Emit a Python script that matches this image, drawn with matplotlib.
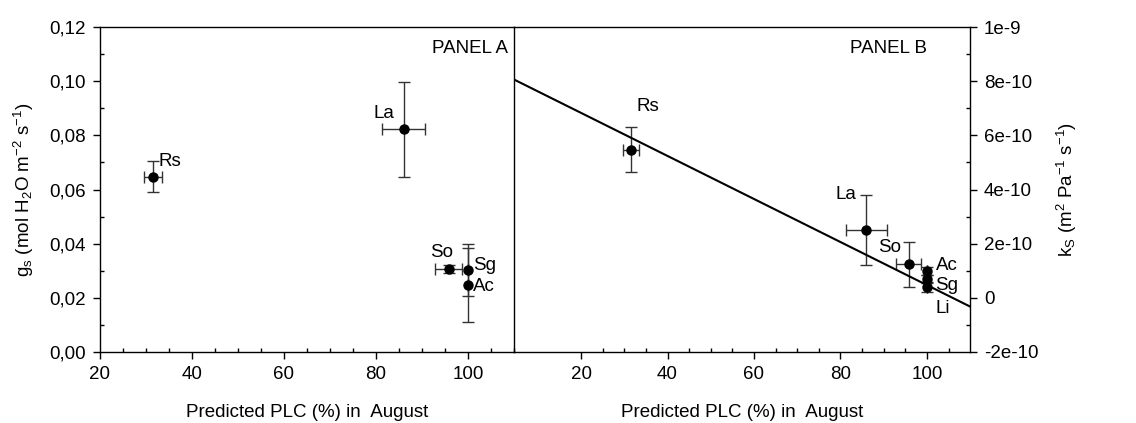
import matplotlib.pyplot as plt
from matplotlib.ticker import MultipleLocator, FixedLocator, FixedFormatter

plt.rcParams['font.family'] = ['Liberation Sans', 'DejaVu Sans']
plt.rcParams['mathtext.fontset'] = 'custom'
plt.rcParams['mathtext.rm'] = 'Liberation Sans'
plt.rcParams['mathtext.it'] = 'Liberation Sans'
plt.rcParams['mathtext.default'] = 'regular'

# panel A: stomatal conductance
species_a = ['Rs', 'La', 'So', 'Sg', 'Ac']
plc_a = [31.5, 86.0, 95.8, 100.0, 100.0]
plc_err_a = [2.0, 4.7, 2.9, 0.0, 0.0]
gs = [0.0648, 0.0823, 0.0307, 0.0303, 0.0248]
gs_err = [0.0056, 0.0175, 0.0015, 0.0097, 0.0137]

# panel B: specific conductivity
species_b = ['Rs', 'La', 'So', 'Ac', 'Sg', 'Li']
plc_b = [31.6, 86.0, 95.8, 100.0, 100.0, 100.0]
plc_err_b = [1.9, 4.7, 2.9, 0.0, 0.0, 0.0]
ks = [5.47e-10, 2.50e-10, 1.24e-10, 1.00e-10, 7.1e-11, 4.1e-11]
ks_err = [8.3e-11, 1.28e-10, 8.3e-11, 1.5e-11, 1.5e-11, 1.8e-11]

# regression line of panel B
fit_slope = -7.95e-12
fit_intercept = 8.42e-10

ks_ticks = [-2e-10, 0, 2e-10, 4e-10, 6e-10, 8e-10, 1e-9]
ks_ticklabels = ['-2e-10', '0', '2e-10', '4e-10', '6e-10', '8e-10', '1e-9']

fs = 13.5
fig = plt.figure(figsize=(11.36, 4.23), dpi=100)
axA = fig.add_axes([0.088, 0.168, 0.3645, 0.768])
axB = fig.add_axes([0.4525, 0.168, 0.4015, 0.768])

ebkw = dict(fmt='o', color='black', ms=6.5, ecolor='#333333', elinewidth=1,
            capsize=4, capthick=1)

# ---- panel A
axA.errorbar(plc_a, gs, xerr=plc_err_a, yerr=gs_err, **ebkw)
axA.set_xlim(20, 110)
axA.set_ylim(0, 0.12)
axA.xaxis.set_major_locator(FixedLocator([20, 40, 60, 80, 100]))
axA.xaxis.set_minor_locator(MultipleLocator(5))
axA.yaxis.set_major_locator(MultipleLocator(0.02))
axA.yaxis.set_minor_locator(MultipleLocator(0.01))
axA.yaxis.set_major_formatter(plt.FuncFormatter(lambda v, p: f'{v:.2f}'.replace('.', ',')))
axA.set_xlabel('Predicted PLC (%) in  August', fontsize=fs, labelpad=15)
axA.set_ylabel('g$_s$ (mol H$_2$O m$^{-2}$ s$^{-1}$)', fontsize=fs, labelpad=10)
axA.text(0.985, 0.935, 'PANEL A', transform=axA.transAxes, ha='right', va='center', fontsize=fs)

lab_a = {'Rs': (32.8, 0.0705, 'left'), 'La': (81.7, 0.0882, 'center'),
         'So': (94.3, 0.0368, 'center'), 'Sg': (101.1, 0.0321, 'left'),
         'Ac': (101.1, 0.0240, 'left')}
for s in species_a:
    tx, ty, ha = lab_a[s]
    axA.text(tx, ty, s, ha=ha, va='center', fontsize=fs)

# ---- panel B
axB.errorbar(plc_b, ks, xerr=plc_err_b, yerr=ks_err, **ebkw)
axB.set_xlim(4.5, 110)
axB.set_ylim(-2e-10, 1e-9)
xl = axB.get_xlim()
axB.plot(xl, [fit_intercept + fit_slope * v for v in xl], color='black', lw=1.5)
axB.xaxis.set_major_locator(FixedLocator([20, 40, 60, 80, 100]))
axB.xaxis.set_minor_locator(FixedLocator(list(range(25, 110, 5))))
axB.yaxis.set_major_locator(FixedLocator(ks_ticks))
axB.yaxis.set_major_formatter(FixedFormatter(ks_ticklabels))
axB.yaxis.set_minor_locator(MultipleLocator(1e-10))
axB.yaxis.tick_right()
axB.yaxis.set_label_position('right')
axB.set_xlabel('Predicted PLC (%) in  August', fontsize=fs, labelpad=15)
axB.set_ylabel('k$_S$ (m$^2$ Pa$^{-1}$ s$^{-1}$)', fontsize=fs, labelpad=12)
axB.spines['left'].set_visible(False)
axB.text(0.905, 0.935, 'PANEL B', transform=axB.transAxes, ha='right', va='center', fontsize=fs)

lab_b = {'Rs': (35.5, 7.05e-10, 'center'), 'La': (81.2, 3.83e-10, 'center'),
         'So': (91.3, 1.84e-10, 'center'), 'Ac': (102.0, 1.21e-10, 'left'),
         'Sg': (102.0, 4.7e-11, 'left'), 'Li': (102.0, -4.1e-11, 'left')}
for s in species_b:
    tx, ty, ha = lab_b[s]
    axB.text(tx, ty, s, ha=ha, va='center', fontsize=fs)

for ax in (axA, axB):
    ax.tick_params(which='major', direction='out', length=5, width=1, labelsize=fs, pad=5)
    ax.tick_params(which='minor', direction='in', length=3, width=1)
    for sp in ax.spines.values():
        sp.set_linewidth(1)
    ax.patch.set_visible(False)

fig.savefig('out.png', dpi=100)
